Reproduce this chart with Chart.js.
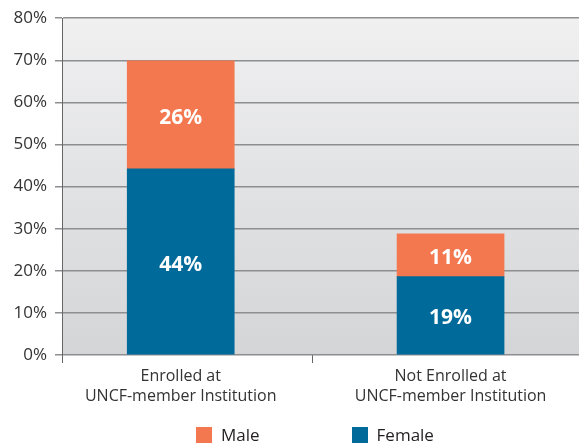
<!DOCTYPE html>
<html lang="en">
<head>
    <meta charset="UTF-8">
    <title>Enrollment by gender</title>
    <style>
        * {
            margin: 0;
            padding: 0;
        }

        body {
            background: #fff;
        }

        .container {
            position: relative;
            width: 579px;
            height: 447px;
        }

        #legend {
            position: absolute;
            left: 196px;
            top: 424px;
            display: flex;
            font: 17px 'Open Sans', sans-serif;
            color: #231f20;
            line-height: 22px;
        }

        #legend .item {
            display: flex;
            align-items: center;
            margin-right: 92px;
        }

        #legend .box {
            width: 16px;
            height: 16px;
            margin-right: 9px;
        }
    </style>
</head>
<body>
    <div class="container">
        <canvas id="chart" width="579" height="447"></canvas>
        <div id="legend"></div>
    </div>
    <script src="https://cdn.jsdelivr.net/npm/chart.js@4.4.1/dist/chart.umd.min.js"></script>
    <script>
        // values (percent of respondents)
        var categories = [['Enrolled at', 'UNCF-member Institution'], ['Not Enrolled at', 'UNCF-member Institution']];
        var female = [44.2, 18.6];
        var male = [25.7, 10.2];
        var femaleText = ['44%', '19%'];
        var maleText = ['26%', '11%'];
        var yMax = 80;
        var yStep = 10;

        var orange = '#f3784f';
        var blue = '#006b9a';

        function points(arr) {
            return arr.map(function (v, i) { return { x: i, y: v }; });
        }

        // grey gradient behind the plot
        var plotBackground = {
            id: 'plotBackground',
            beforeDraw: function (chart) {
                var a = chart.chartArea;
                var ctx = chart.ctx;
                var g = ctx.createLinearGradient(0, a.top, 0, a.bottom);
                g.addColorStop(0, '#f0f0f1');
                g.addColorStop(1, '#d4d5d7');
                ctx.save();
                ctx.fillStyle = g;
                ctx.fillRect(a.left, a.top, a.right - a.left, a.bottom - a.top);
                ctx.restore();
            }
        };

        // white percentage inside each segment
        var segmentLabels = {
            id: 'segmentLabels',
            afterDatasetsDraw: function (chart) {
                var ctx = chart.ctx;
                ctx.save();
                ctx.fillStyle = '#fff';
                ctx.font = 'bold 21px "Open Sans", sans-serif';
                ctx.textAlign = 'center';
                ctx.textBaseline = 'middle';
                chart.data.datasets.forEach(function (ds, di) {
                    chart.getDatasetMeta(di).data.forEach(function (bar, i) {
                        var p = bar.getProps(['x', 'y', 'base'], true);
                        ctx.fillText(ds.texts[i], p.x, (p.y + p.base) / 2 + 3);
                    });
                });
                ctx.restore();
            }
        };

        var ctx = document.getElementById('chart').getContext('2d');
        var myChart = new Chart(ctx, {
            type: 'bar',
            data: {
                datasets: [{
                    label: 'Female',
                    data: points(female),
                    texts: femaleText,
                    backgroundColor: blue,
                    stack: 'total'
                }, {
                    label: 'Male',
                    data: points(male),
                    texts: maleText,
                    backgroundColor: orange,
                    stack: 'total'
                }]
            },
            options: {
                responsive: false,
                animation: false,
                events: [],
                barThickness: 107,
                layout: { padding: { top: 17, bottom: 32, left: 0, right: 0 } },
                scales: {
                    x: {
                        type: 'linear',
                        offset: false,
                        min: -0.44,
                        max: 1.476,
                        afterBuildTicks: function (scale) {
                            // left edge, first bar, divider, second bar
                            scale.ticks = [-0.44, 0, 0.49, 1].map(function (v) { return { value: v }; });
                        },
                        afterFit: function (scale) { scale.height = 60; },
                        border: { display: false },
                        grid: {
                            offset: false,
                            drawOnChartArea: false,
                            tickLength: 8,
                            color: function (c) {
                                return (c.index === 0 || c.index === 2) ? '#666' : 'rgba(0,0,0,0)';
                            }
                        },
                        ticks: {
                            autoSkip: false,
                            maxRotation: 0,
                            padding: 3,
                            color: '#333',
                            font: { family: 'Open Sans', size: 16, lineHeight: 1.25 },
                            callback: function (value) {
                                return Number.isInteger(value) ? categories[value] : '';
                            }
                        }
                    },
                    y: {
                        stacked: true,
                        min: 0,
                        max: yMax,
                        afterFit: function (scale) { scale.width = 62; },
                        border: { color: '#666', width: 1 },
                        grid: { color: '#8c8e90', lineWidth: 1.5, tickLength: 7 },
                        ticks: {
                            stepSize: yStep,
                            padding: 8,
                            color: '#333',
                            font: { family: 'Open Sans', size: 17 },
                            callback: function (v) { return v + '%'; }
                        }
                    }
                },
                plugins: {
                    legend: { display: false },
                    tooltip: { enabled: false }
                }
            },
            plugins: [plotBackground, segmentLabels]
        });

        // legend below the chart, Male first
        var legend = document.getElementById('legend');
        myChart.data.datasets.slice().reverse().forEach(function (ds) {
            var item = document.createElement('div');
            item.className = 'item';
            var box = document.createElement('span');
            box.className = 'box';
            box.style.background = ds.backgroundColor;
            var text = document.createElement('span');
            text.textContent = ds.label;
            item.appendChild(box);
            item.appendChild(text);
            legend.appendChild(item);
        });
    </script>
</body>
</html>
